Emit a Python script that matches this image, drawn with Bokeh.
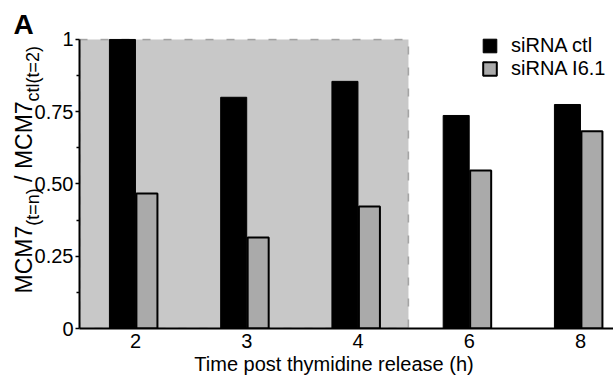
import math
from bokeh.plotting import figure
from bokeh.models import (ColumnDataSource, Range1d, FixedTicker, BoxAnnotation,
                          Label, Legend, LegendItem)
from bokeh.transform import dodge
from bokeh.embed import file_html
from bokeh.resources import INLINE

# ---- data ----
times = ["2", "3", "4", "6", "8"]
sirna_ctl = [1.0, 0.80, 0.855, 0.737, 0.775]
sirna_i61 = [0.467, 0.315, 0.422, 0.547, 0.682]
y_ticks = [0, 0.25, 0.5, 0.75, 1]
y_tick_labels = ["0", "0.25", "0.50", "0.75", "1"]
y_minor_ticks = [0.125, 0.375, 0.625, 0.875]
series_names = ["siRNA ctl", "siRNA I6.1"]
x_title = "Time post thymidine release (h)"

FONT = "Liberation Sans"
W, H = 613, 383

idx = list(range(len(times)))
src = ColumnDataSource(dict(idx=idx, t=times, ctl=sirna_ctl, i61=sirna_i61))

p = figure(width=W, height=H, output_backend="svg", toolbar_location=None,
           x_range=Range1d(-0.503, 4.297), y_range=Range1d(0, 1.031),
           min_border_left=79, min_border_right=0, min_border_top=30,
           min_border_bottom=55)
p.outline_line_color = None
p.xgrid.visible = False
p.ygrid.visible = False
p.background_fill_color = "white"
p.border_fill_color = "white"

# shaded region (t = 2..4)
shade = BoxAnnotation(left=-0.503, right=2.454, bottom=0, top=1,
                      fill_color="#c8c8c8", fill_alpha=1.0,
                      line_color="#111111", line_width=1.5, line_dash="8 13",
                      level="underlay")
p.add_layout(shade)

r_ctl = p.vbar(x=dodge("idx", -0.117, range=p.x_range), top="ctl", width=0.234,
               source=src, fill_color="black", line_color="black", line_width=1)
r_i61 = p.vbar(x=dodge("idx", 0.103, range=p.x_range), top="i61", width=0.189,
               source=src, fill_color="#aaaaaa", line_color="black", line_width=2)

# axes
xa = p.xaxis[0]
xa.ticker = FixedTicker(ticks=idx)
xa.major_label_overrides = {i: t for i, t in zip(idx, times)}
xa.major_tick_out = 0
xa.major_tick_in = 0
xa.minor_tick_out = 0
xa.axis_line_width = 2
xa.major_label_standoff = 5
xa.major_label_text_font = FONT
xa.major_label_text_font_size = "20px"
xa.major_label_text_color = "black"

ya = p.yaxis[0]
ya.ticker = FixedTicker(ticks=y_ticks, minor_ticks=y_minor_ticks)
ya.major_label_overrides = {t: l for t, l in zip(y_ticks, y_tick_labels)}
ya.bounds = (0, 1)
ya.major_tick_out = 4
ya.major_tick_in = 0
ya.minor_tick_out = 3
ya.minor_tick_in = 0
ya.major_tick_line_width = 1.5
ya.minor_tick_line_width = 1.5
ya.axis_line_width = 2
ya.major_label_standoff = 2
ya.major_label_text_font = FONT
ya.major_label_text_font_size = "20px"
ya.major_label_text_color = "black"

legend = Legend(items=[LegendItem(label=series_names[0], renderers=[r_ctl]),
                       LegendItem(label=series_names[1], renderers=[r_i61])],
                location=(402, 248), glyph_width=17, glyph_height=17,
                label_standoff=13, spacing=-7, padding=0, margin=0,
                label_text_font=FONT, label_text_font_size="20px",
                label_text_color="black",
                border_line_color=None, background_fill_alpha=0)
p.add_layout(legend)

# ---- transparent text layer laid over the chart (pixel coordinates, top-left origin) ----
ov = figure(width=W, height=H, output_backend="svg", toolbar_location=None,
            x_range=Range1d(0, W), y_range=Range1d(H, 0),
            x_axis_type=None, y_axis_type=None,
            min_border=0, min_border_left=0, min_border_right=0,
            min_border_top=0, min_border_bottom=0)
ov.outline_line_color = None
ov.xgrid.visible = False
ov.ygrid.visible = False
ov.background_fill_alpha = 0
ov.border_fill_alpha = 0
ov.styles = {"margin-top": f"-{H}px"}

def add_text(txt, x, y, size, angle=0.0, align="left", style="normal"):
    ov.add_layout(Label(x=x, y=y, text=txt, text_font=FONT,
                        text_font_size=f"{size}px", text_font_style=style,
                        angle=angle, text_align=align,
                        text_baseline="alphabetic", text_color="black"))

# panel letter
add_text("A", 13, 24, 28, style="bold")
# x axis title
add_text(x_title, 333.5, 363, 20, align="center")
# y axis title with subscripts
main_fs, sub_fs = 23, 18
add_text("MCM7", 23, 293.0, main_fs, angle=math.pi / 2)
add_text("(t=n)", 32, 225.3, sub_fs, angle=math.pi / 2)
add_text("/ MCM7", 23, 181.4, main_fs, angle=math.pi / 2)
add_text("ctl(t=2)", 32, 100.9, sub_fs, angle=math.pi / 2)

open("out.html", "w").write(file_html([p, ov], INLINE))
